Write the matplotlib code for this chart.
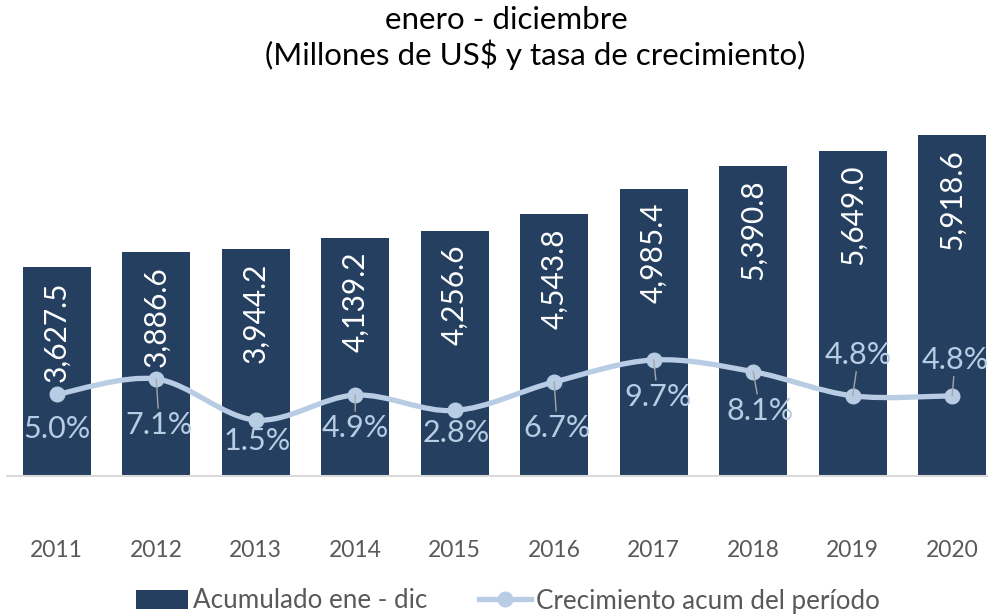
import matplotlib
matplotlib.use('Agg')
import matplotlib.pyplot as plt
from matplotlib.path import Path
from matplotlib.patches import PathPatch
from matplotlib.lines import Line2D
from matplotlib.patches import Patch
import numpy as np

years = ['2011', '2012', '2013', '2014', '2015', '2016', '2017', '2018', '2019', '2020']
acumulado = [3627.5, 3886.6, 3944.2, 4139.2, 4256.6, 4543.8, 4985.4, 5390.8, 5649.0, 5918.6]
crecimiento = [5.0, 7.1, 1.5, 4.9, 2.8, 6.7, 9.7, 8.1, 4.8, 4.8]

# label placement for the growth labels (pixels from the point, y down) and leader flag
lbl_off = [(0, 35), (3, 46), (1, 21), (0, 33), (2, 23), (3, 46), (4, 37), (7, 39), (6, -41), (3, -36)]
leader = [False, True, False, True, False, True, True, True, True, True]

bar_col = '#243F60'
line_col = '#B8CCE4'
txt_col = '#595959'

plt.rcParams['font.family'] = ['Lato', 'DejaVu Sans']

W, H = 991, 615
fig = plt.figure(figsize=(W / 100, H / 100), dpi=100)
ax = fig.add_axes([7 / W, (H - 476) / H, 980 / W, (476 - 73) / H])
x = np.arange(len(years))

ax.bar(x, acumulado, width=0.68, color=bar_col, zorder=2)
ax.set_xlim(-0.5, 9.35)
ax.set_ylim(0, 7000)
for s in ['top', 'right', 'left']:
    ax.spines[s].set_visible(False)
ax.spines['bottom'].set_color('#D9D9D9')
ax.spines['bottom'].set_linewidth(1.5)
ax.set_yticks([])
ax.set_xticks(x)
ax.set_xticklabels(years, fontsize=16.5, color=txt_col)
ax.tick_params(axis='x', length=0, pad=46)

for xi, v in zip(x, acumulado):
    ax.annotate(f'{v:,.1f}', (xi, v), xytext=(0, -14), textcoords='offset pixels',
                rotation=90, ha='center', va='top', color='white', fontsize=21.5, zorder=3)

# growth line on a secondary axis
ax2 = ax.twinx()
ax2.set_ylim(-6.15, 48.9)
ax2.axis('off')

# smooth curve through the points (Catmull-Rom as cubic Bezier)
pts = np.column_stack([x, crecimiento]).astype(float)
verts = [tuple(pts[0])]
codes = [Path.MOVETO]
n = len(pts)
for i in range(n - 1):
    p0 = pts[max(i - 1, 0)]
    p1 = pts[i]
    p2 = pts[i + 1]
    p3 = pts[min(i + 2, n - 1)]
    c1 = p1 + (p2 - p0) / 6
    c2 = p2 - (p3 - p1) / 6
    verts += [tuple(c1), tuple(c2), tuple(p2)]
    codes += [Path.CURVE4] * 3
ax2.add_patch(PathPatch(Path(verts, codes), fill=False, edgecolor=line_col, lw=3.8,
                        capstyle='round', zorder=4))
ax2.plot(x, crecimiento, 'o', color=line_col, markersize=10.5, zorder=5)

for xi, v, (dx, dy), ld in zip(x, crecimiento, lbl_off, leader):
    ap = dict(arrowstyle='-', color='#A6A6A6', lw=1, shrinkA=0, shrinkB=0) if ld else None
    ax2.annotate(f'{v:.1f}%', (xi, v), xytext=(dx, -dy), textcoords='offset pixels',
                 ha='center', va='center', color=line_col, fontsize=22, zorder=6,
                 arrowprops=ap)

fig.text(506 / W, 1 - 20 / H, 'enero - diciembre', ha='center', va='center', fontsize=22.5, color='black')
fig.text(535 / W, 1 - 55 / H, '(Millones de US$ y tasa de crecimiento)', ha='center', va='center',
         fontsize=22.5, color='black')

handles = [Patch(facecolor=bar_col, edgecolor='none'),
           Line2D([0], [0], color=line_col, lw=3.8, marker='o', markersize=10.5)]
fig.legend(handles, ['Acumulado ene - dic', 'Crecimiento acum del período'],
           loc='center', bbox_to_anchor=(508 / W, 1 - 601 / H), ncol=2, frameon=False,
           fontsize=18.7, labelcolor=txt_col, handlelength=2.0, handletextpad=0.2,
           columnspacing=2.0)

fig.savefig('out.png', dpi=100)
